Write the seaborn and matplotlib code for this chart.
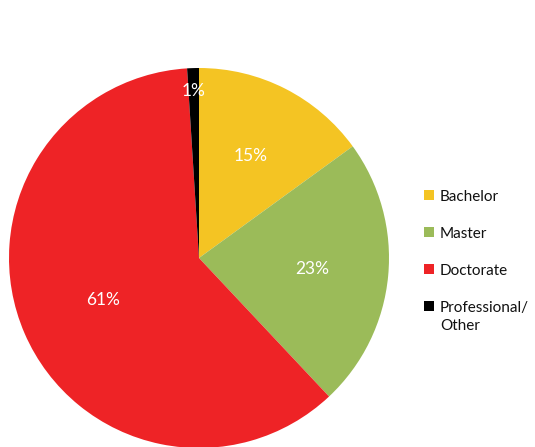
import numpy as np
import seaborn as sns
import matplotlib.pyplot as plt
from matplotlib.patches import Rectangle

# data
categories = ['Bachelor', 'Master', 'Doctorate', 'Professional/\nOther']
shares = [15, 23, 61, 1]
colors = ['#F4C423', '#9BBB59', '#EE2326', '#000000']
label_dist = [0.6, 0.6, 0.55, 0.88]

sns.set_theme(style='white')
plt.rcParams['font.family'] = ['Lato', 'DejaVu Sans']

W, H = 535, 447
fig = plt.figure(figsize=(W / 100, H / 100), dpi=100)
ax = fig.add_axes([9 / W, -1 / H, 380 / W, 380 / H])

wedges, _ = ax.pie(shares, colors=colors, startangle=90, counterclock=False,
                   radius=1, wedgeprops=dict(linewidth=0))

for w, s, d in zip(wedges, shares, label_dist):
    ang = np.deg2rad((w.theta1 + w.theta2) / 2)
    ax.text(d * np.cos(ang), d * np.sin(ang), f'{s}%', color='white',
            fontsize=12.5, ha='center', va='center')

ax.set_xlim(-1, 1)
ax.set_ylim(-1, 1)
ax.set_aspect('equal')
ax.axis('off')

# legend drawn by hand so the square sits next to the first line
for i, (lab, c) in enumerate(zip(categories, colors)):
    yc = 195 + 37 * i
    fig.patches.append(Rectangle((424 / W, 1 - (yc + 5) / H), 10 / W, 10 / H,
                                 transform=fig.transFigure, facecolor=c, edgecolor='none'))
    fig.text(440 / W, 1 - (yc - 5) / H, lab, fontsize=11, ha='left', va='top',
             linespacing=1.4, color='#111111')

fig.savefig('out.png', dpi=100)
